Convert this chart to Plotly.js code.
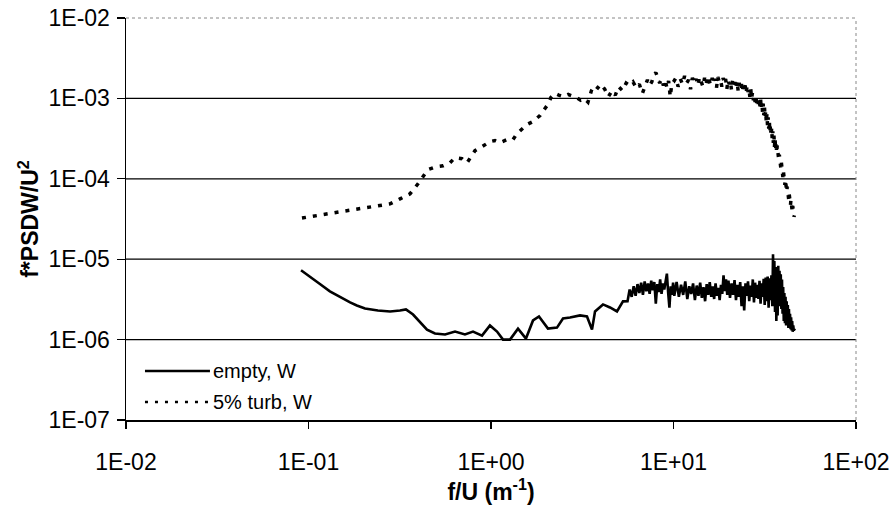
<!DOCTYPE html>
<html>
<head>
<meta charset="utf-8">
<script src="https://cdn.plot.ly/plotly-3.0.1.min.js"></script>
<style>html,body{margin:0;padding:0;background:#fff;}#chart{width:893px;height:520px;}</style>
</head>
<body>
<div id="chart"></div>
<script>
// ---- data ----
const xTickVals = [0.01, 0.1, 1, 10, 100];
const xTickText = ['1E-02', '1E-01', '1E+00', '1E+01', '1E+02'];
const yTickVals = [1e-7, 1e-6, 1e-5, 1e-4, 1e-3, 1e-2];
const yTickText = ['1E-07', '1E-06', '1E-05', '1E-04', '1E-03', '1E-02'];

const seriesNames = ['empty, W', '5% turb, W'];

const emptyF = [0.091, 0.102, 0.116, 0.131, 0.149, 0.169, 0.184, 0.204, 0.240, 0.280,
  0.317, 0.342, 0.374, 0.408, 0.446, 0.493, 0.560, 0.635, 0.720, 0.797,
  0.893, 0.987, 1.079, 1.164, 1.271, 1.406, 1.555, 1.699, 1.832, 2.052,
  2.299, 2.480, 2.710, 3.074, 3.357, 3.576, 3.715, 4.109, 4.488, 4.902, 5.288,
  5.6, 5.75, 5.9, 6.05, 6.2, 6.35, 6.5, 6.65, 6.8, 6.95,
  7.1, 7.25, 7.4, 7.55, 7.7, 7.85, 8.0, 8.15, 8.3, 8.45,
  8.6, 8.75, 8.9, 9.05, 9.2, 9.35, 9.5, 9.65, 9.8, 9.95, 10.1,
  10.4, 10.7, 11.0, 11.3, 11.6, 11.9, 12.2, 12.5, 12.8, 13.1,
  13.4, 13.7, 14.0, 14.3, 14.6, 14.9, 15.2, 15.5, 15.8, 16.1,
  16.4, 16.7, 17.0, 17.3, 17.6, 17.9, 18.2, 18.5, 18.8, 19.1,
  19.4, 19.7,
  20.0, 20.4, 20.8, 21.2, 21.6, 22.0, 22.4, 22.8, 23.2, 23.6,
  24.0, 24.4, 24.8, 25.2, 25.6, 26.0, 26.4, 26.8, 27.2, 27.6,
  28.0, 28.4, 28.8, 29.2, 29.6, 30.0, 30.4, 30.8, 31.2, 31.6,
  32.0, 32.4, 32.8, 33.2, 33.6, 34.0, 34.4, 34.8,
  35.1, 35.4, 35.7, 36.0, 36.3, 36.6, 36.9, 37.2, 37.5, 37.8,
  38.1, 38.4, 38.7, 39.0, 39.3, 39.6, 39.9, 40.2, 40.5, 40.8,
  41.1, 41.4, 41.7, 42.0, 42.3, 42.6, 42.9, 43.2, 43.5, 43.8,
  44.1, 44.4, 44.7, 45.0, 45.3, 45.6, 45.9, 46.2];
const emptyV = [7.29e-6, 5.96e-6, 4.87e-6, 3.98e-6, 3.35e-6, 2.90e-6, 2.66e-6, 2.44e-6, 2.30e-6, 2.24e-6,
  2.30e-6, 2.37e-6, 2.05e-6, 1.63e-6, 1.33e-6, 1.19e-6, 1.16e-6, 1.26e-6, 1.16e-6, 1.26e-6,
  1.12e-6, 1.50e-6, 1.26e-6, 1.0e-6, 1.0e-6, 1.37e-6, 1.03e-6, 1.73e-6, 1.94e-6, 1.37e-6,
  1.41e-6, 1.83e-6, 1.88e-6, 2.0e-6, 1.94e-6, 1.33e-6, 2.24e-6, 2.74e-6, 2.51e-6, 2.24e-6, 2.99e-6,
  3.0e-6, 4.2e-6, 3.4e-6, 4.6e-6, 3.5e-6, 4.9e-6, 3.8e-6, 5.1e-6, 3.6e-6, 5.3e-6,
  4.0e-6, 5.0e-6, 3.7e-6, 5.4e-6, 4.1e-6, 5.2e-6, 2.8e-6, 4.9e-6, 3.9e-6, 5.6e-6,
  3.7e-6, 5.0e-6, 4.2e-6, 5.4e-6, 6.6e-6, 3.8e-6, 2.5e-6, 4.6e-6, 3.6e-6, 5.1e-6, 3.5e-6,
  5.2e-6, 3.4e-6, 4.8e-6, 3.6e-6, 5.3e-6, 3.2e-6, 4.6e-6, 3.7e-6, 5.0e-6, 3.1e-6,
  4.7e-6, 3.5e-6, 5.1e-6, 3.3e-6, 4.5e-6, 3.0e-6, 4.9e-6, 3.6e-6, 5.2e-6, 3.4e-6,
  4.6e-6, 3.2e-6, 5.0e-6, 3.5e-6, 4.4e-6, 3.1e-6, 4.8e-6, 3.7e-6, 6.3e-6, 4.0e-6,
  5.6e-6, 3.6e-6,
  5.4e-6, 3.3e-6, 5.0e-6, 3.6e-6, 5.5e-6, 3.1e-6, 4.8e-6, 3.4e-6, 5.2e-6, 2.6e-6,
  4.6e-6, 2.3e-6, 5.0e-6, 3.5e-6, 5.3e-6, 3.0e-6, 4.7e-6, 3.4e-6, 5.6e-6, 2.9e-6,
  5.1e-6, 3.3e-6, 4.8e-6, 3.2e-6, 5.4e-6, 2.8e-6, 5.0e-6, 3.4e-6, 5.7e-6, 2.7e-6,
  5.9e-6, 3.0e-6, 6.1e-6, 2.5e-6, 5.8e-6, 3.1e-6, 6.3e-6, 2.6e-6,
  1.15e-5, 3.5e-6, 9.5e-6, 2.2e-6, 8.0e-6, 1.7e-6, 6.0e-6, 2.0e-6, 8.3e-6, 2.6e-6,
  7.2e-6, 3.0e-6, 6.5e-6, 2.4e-6, 5.6e-6, 2.1e-6, 4.5e-6, 1.7e-6, 3.8e-6, 1.6e-6,
  3.4e-6, 1.5e-6, 3.0e-6, 1.6e-6, 2.7e-6, 1.4e-6, 2.4e-6, 1.5e-6, 2.1e-6, 1.35e-6,
  1.9e-6, 1.3e-6, 1.7e-6, 1.25e-6, 1.5e-6, 1.3e-6, 1.35e-6, 1.3e-6];

const turbF = [0.0921, 0.1058, 0.1201, 0.1362, 0.1585, 0.1844, 0.2118, 0.2403, 0.2797, 0.3172,
  0.3599, 0.3981, 0.4295, 0.4517, 0.4996, 0.5458, 0.5959, 0.6348, 0.6934, 0.7385,
  0.7772, 0.8172, 0.8927, 0.9874, 1.052, 1.120, 1.224, 1.320, 1.388, 1.479,
  1.575, 1.699, 1.856, 1.976, 2.052, 2.132, 2.242,
  2.35, 2.5, 2.65, 2.8, 2.95, 3.1, 3.25, 3.4, 3.55, 3.7, 3.85, 4.0,
  4.2, 4.4, 4.6, 4.8, 5.0,
  5.25, 5.5, 5.75, 6.0, 6.25, 6.5, 6.75, 7.0,
  7.2, 7.4, 7.6, 7.8, 8.0, 8.2, 8.4, 8.6, 8.8, 9.0, 9.2, 9.4, 9.6, 9.8,
  10.0, 10.3, 10.6, 10.9, 11.2, 11.5, 11.8, 12.1, 12.4, 12.7,
  13.0, 13.3, 13.6, 13.9, 14.2, 14.5, 14.8, 15.1, 15.4, 15.7,
  16.0, 16.3, 16.6, 16.9, 17.2, 17.5, 17.8, 18.1, 18.4, 18.7,
  19.0, 19.3, 19.6, 19.9, 20.2, 20.5, 20.8, 21.1, 21.4, 21.7,
  22.0, 22.3, 22.6, 22.9, 23.2, 23.5, 23.8, 24.1, 24.4, 24.7,
  25.0, 25.3, 25.6, 25.9, 26.2, 26.5, 26.8, 27.1, 27.4, 27.7,
  28.0, 28.3, 28.6, 28.9, 29.2, 29.5, 29.8,
  30.0, 30.25, 30.5, 30.75, 31.0, 31.25, 31.5, 31.75,
  32.0, 32.25, 32.5, 32.75, 33.0, 33.25, 33.5, 33.75,
  34.0, 34.25, 34.5, 34.75, 35.0, 35.25, 35.5, 35.75,
  36.0, 36.25, 36.5, 36.75, 37.0, 37.25, 37.5, 37.75,
  38.0, 38.25, 38.5, 38.75, 39.0, 39.25, 39.5, 39.75,
  40.0, 40.25, 40.5, 40.75, 41.0, 41.25, 41.5, 41.75,
  42.0, 42.25, 42.5, 42.75, 43.0, 43.25, 43.5, 43.75,
  44.0, 44.25, 44.5, 44.75, 45.0, 45.25, 45.5, 45.75,
  46.0];
const turbV = [3.25e-5, 3.45e-5, 3.65e-5, 3.76e-5, 3.98e-5, 4.22e-5, 4.47e-5, 4.60e-5, 4.87e-5, 5.62e-5,
  6.49e-5, 8.66e-5, 1.09e-4, 1.30e-4, 1.41e-4, 1.45e-4, 1.58e-4, 1.83e-4, 1.78e-4, 1.58e-4,
  1.88e-4, 2.24e-4, 2.51e-4, 2.90e-4, 2.99e-4, 2.82e-4, 3.07e-4, 3.07e-4, 3.65e-4, 4.22e-4,
  4.73e-4, 5.16e-4, 6.13e-4, 7.50e-4, 8.41e-4, 1.03e-3, 1.155e-3,
  1.10e-3, 1.05e-3, 1.12e-3, 1.08e-3, 1.02e-3, 9.5e-4, 1.0e-3, 9.0e-4, 1.25e-3, 1.45e-3, 1.35e-3, 1.50e-3,
  1.30e-3, 1.05e-3, 1.25e-3, 1.10e-3, 1.40e-3,
  1.25e-3, 1.55e-3, 1.45e-3, 1.60e-3, 1.35e-3, 1.50e-3, 1.15e-3, 1.45e-3,
  1.70e-3, 1.45e-3, 1.60e-3, 1.95e-3, 2.10e-3, 1.80e-3, 1.55e-3, 1.75e-3, 1.45e-3, 1.70e-3, 1.35e-3, 1.65e-3, 1.05e-3, 1.55e-3,
  1.60e-3, 1.80e-3, 1.40e-3, 1.75e-3, 1.50e-3, 1.90e-3, 1.55e-3, 1.70e-3, 1.30e-3, 1.80e-3,
  1.55e-3, 1.75e-3, 1.45e-3, 1.85e-3, 1.60e-3, 1.40e-3, 1.80e-3, 1.50e-3, 1.90e-3, 1.60e-3,
  1.45e-3, 1.80e-3, 1.55e-3, 1.75e-3, 1.35e-3, 1.85e-3, 1.60e-3, 1.70e-3, 1.40e-3, 1.80e-3,
  1.55e-3, 1.75e-3, 1.30e-3, 1.70e-3, 1.50e-3, 1.65e-3, 1.25e-3, 1.70e-3, 1.45e-3, 1.60e-3,
  1.35e-3, 1.65e-3, 1.25e-3, 1.55e-3, 1.40e-3, 1.60e-3, 1.20e-3, 1.50e-3, 1.35e-3, 1.45e-3,
  1.15e-3, 1.45e-3, 1.20e-3, 1.35e-3, 1.05e-3, 1.30e-3, 1.00e-3, 1.20e-3, 9.5e-4, 1.10e-3,
  9.0e-4, 1.05e-3, 8.5e-4, 9.8e-4, 8.2e-4, 9.2e-4, 8.0e-4,
  9.8e-4, 7.4e-4, 9.0e-4, 6.8e-4, 8.6e-4, 6.2e-4, 7.9e-4, 5.8e-4,
  7.0e-4, 5.0e-4, 6.4e-4, 4.6e-4, 5.8e-4, 4.2e-4, 5.2e-4, 3.8e-4,
  4.8e-4, 3.4e-4, 4.3e-4, 3.1e-4, 3.9e-4, 2.8e-4, 3.5e-4, 2.5e-4,
  3.2e-4, 2.3e-4, 2.9e-4, 2.1e-4, 2.6e-4, 1.9e-4, 2.3e-4, 1.7e-4,
  2.0e-4, 1.5e-4, 1.8e-4, 1.35e-4, 1.6e-4, 1.2e-4, 1.4e-4, 1.05e-4,
  1.25e-4, 9.2e-5, 1.1e-4, 8.4e-5, 9.8e-5, 7.6e-5, 8.8e-5, 6.9e-5,
  8.0e-5, 6.2e-5, 7.2e-5, 5.6e-5, 6.6e-5, 5.1e-5, 6.0e-5, 4.7e-5,
  5.5e-5, 4.3e-5, 5.0e-5, 3.9e-5, 4.6e-5, 3.6e-5, 4.2e-5, 3.4e-5,
  3.5e-5];

// ---- chart ----
const FONT = 'Liberation Sans, Arial, sans-serif';

const traces = [
  {
    x: emptyF, y: emptyV, type: 'scatter', mode: 'lines', name: seriesNames[0],
    line: {color: '#000', width: 2.6}, showlegend: false
  },
  {
    x: turbF, y: turbV, type: 'scatter', mode: 'lines', name: seriesNames[1],
    line: {color: '#000', width: 3.5, dash: '4px,7px'}, showlegend: false
  }
];

const gridShapes = [0.2, 0.4, 0.6, 0.8].map(p => ({
  type: 'line', xref: 'paper', yref: 'paper', x0: 0, x1: 1, y0: p, y1: p,
  line: {color: '#000', width: 1.2}, layer: 'below'
}));

const frameShapes = [
  {type: 'line', xref: 'paper', yref: 'paper', x0: 0, x1: 1, y0: 1, y1: 1,
   line: {color: '#888', width: 1, dash: 'dot'}, layer: 'below'},
  {type: 'line', xref: 'paper', yref: 'paper', x0: 1, x1: 1, y0: 0, y1: 1,
   line: {color: '#888', width: 1, dash: 'dot'}, layer: 'below'}
];

// legend key in the lower-left corner
const legendShapes = [
  {type: 'line', xref: 'paper', yref: 'paper', x0: 0.026, x1: 0.115, y0: 0.122, y1: 0.122,
   line: {color: '#000', width: 2.5}},
  {type: 'line', xref: 'paper', yref: 'paper', x0: 0.026, x1: 0.115, y0: 0.045, y1: 0.045,
   line: {color: '#000', width: 2.5, dash: '3px,7px'}}
];
const legendText = [
  {xref: 'paper', yref: 'paper', x: 0.117, y: 0.122, xanchor: 'left', yanchor: 'middle',
   text: seriesNames[0], showarrow: false, font: {family: FONT, size: 20, color: '#000'}},
  {xref: 'paper', yref: 'paper', x: 0.117, y: 0.045, xanchor: 'left', yanchor: 'middle',
   text: seriesNames[1], showarrow: false, font: {family: FONT, size: 20, color: '#000'}}
];

const layout = {
  width: 893, height: 520,
  margin: {l: 126, r: 37, t: 18, b: 100, pad: 0},
  paper_bgcolor: '#fff', plot_bgcolor: '#fff',
  font: {family: FONT, color: '#000'},
  showlegend: false,
  xaxis: {
    type: 'log', range: [-2, 2], automargin: false,
    tickmode: 'array', tickvals: xTickVals, ticktext: xTickText,
    ticks: 'outside', ticklen: 7, tickwidth: 1.2, tickcolor: '#000',
    ticklabelstandoff: 14,
    showline: true, linecolor: '#000', linewidth: 1.5,
    showgrid: false, zeroline: false,
    tickfont: {family: FONT, size: 23, color: '#000'},
    title: {text: '<b>f/U (m<sup>-1</sup>)</b>', font: {family: FONT, size: 23, color: '#000'}, standoff: 8}
  },
  yaxis: {
    type: 'log', range: [-7, -2], automargin: false,
    tickmode: 'array', tickvals: yTickVals, ticktext: yTickText,
    ticks: 'outside', ticklen: 8, tickwidth: 1.2, tickcolor: '#000',
    ticklabelstandoff: 2,
    showline: true, linecolor: '#000', linewidth: 1.5,
    showgrid: false, zeroline: false,
    tickfont: {family: FONT, size: 23, color: '#000'},
    title: {text: '<b>f*PSDW/U<sup>2</sup></b>', font: {family: FONT, size: 23, color: '#000'}, standoff: 3}
  },
  shapes: gridShapes.concat(frameShapes, legendShapes),
  annotations: legendText
};

Plotly.newPlot('chart', traces, layout, {displayModeBar: false, staticPlot: true});
</script>
</body>
</html>
